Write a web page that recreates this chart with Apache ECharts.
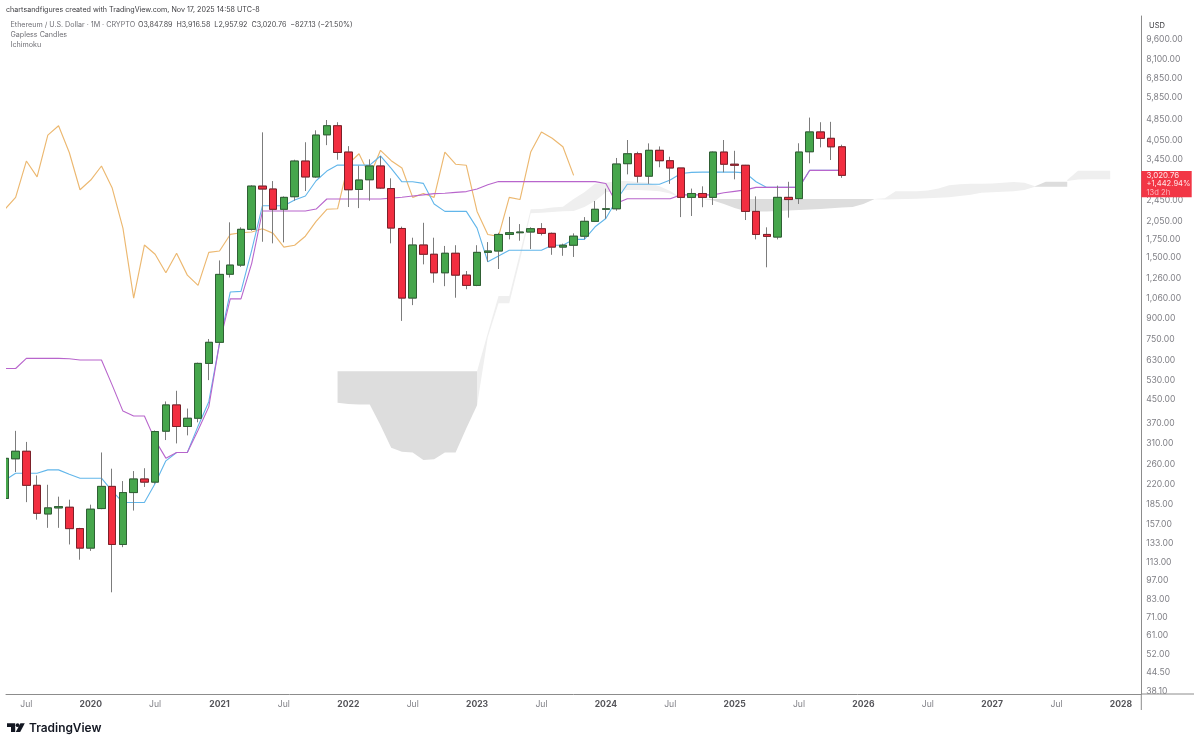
<!DOCTYPE html>
<html><head><meta charset="utf-8">
<style>html,body{margin:0;padding:0;background:#fff}#c{width:1200px;height:746px}</style>
<script src="https://cdn.jsdelivr.net/npm/echarts@6/dist/echarts.min.js"></script>
</head><body><div id="c"></div>
<script>
// month index 0 = May 2019
const opens=[195,273,291,218,171,180,181,151,128,179,216,132,205,230,224,345,431,359,385,613,733,1306,1411,1911,2757,2690,2265,2520,3410,2980,4260,4600,3680,2680,2910,3270,2700,1925,1067,1673,1547,1322,1560,1296,1188,1572,1590,1830,1857,1868,1921,1847,1644,1670,1803,2045,2265,2275,3335,3627,3000,3735,3420,3215,2506,2590,2506,3680,3320,3290,2225,1830,1790,2506,2480,3690,4365,4135,3847.89];
const closes=[274,291,218,172,180,182,151,128,178,216,132,205,230,224,344,431,359,385,613,733,1304,1411,1911,2757,2690,2265,2506,3410,2980,4250,4600,3667,2674,2903,3270,2712,1932,1067,1673,1547,1322,1560,1296,1188,1572,1590,1830,1857,1868,1921,1847,1644,1670,1803,2045,2265,2275,3325,3627,3000,3735,3420,3215,2506,2590,2506,3680,3320,3290,2225,1830,1800,2506,2460,3680,4365,4135,3848,3020.76];
const lows=[190,244,189,163,152,152,132,116,125,178,88,129,176,215,221,320,311,333,372,532,716,1270,1390,1889,1720,1697,1711,2436,2645,2957,3903,3449,2309,2288,2436,2690,1697,879,1005,1420,1215,1180,1070,1150,1180,1452,1365,1755,1735,1617,1815,1540,1527,1512,1755,2033,2090,2238,3046,2840,2810,3235,2810,2120,2140,2305,2350,3100,2920,2068,1755,1385,1755,2110,2370,3345,3830,3440,2957.92];
const highs=[285,346,315,237,219,198,193,152,185,288,251,226,246,252,347,444,486,418,617,754,1468,2028,1944,2780,4350,2878,2527,3449,4000,4426,4830,4740,3870,3278,3460,3559,2945,1955,1780,2020,1780,1660,1670,1342,1670,1715,1856,2125,1998,1944,2015,1860,1692,1847,2120,2430,2700,3500,4076,3690,3962,3860,3537,3215,2700,2752,3700,4076,3720,3300,2527,1944,2768,2860,3965,4930,4740,4755,3916.58];
const tenkan=[227.7,241.6,241.6,241.6,248.5,248.5,239.6,231.6,231.6,231.6,207.4,188.5,188.5,188.5,221.4,268.3,288,288,360,443,728,1123,1129,1603,2335,2335,2335,2450,2535,2886,3133,3295,3295,3295,3295,3560,3205,2860,2860,2821,2370,2225,2225,2225,1930,1452,1525,1600,1600,1600,1600,1670,1670,1755,1755,1953,2095,2450,2800,2800,2800,2800,2903,3070,3097,3105,3105,3105,3105,3085,2860,2727,2727,2727,2727,3152,3152,3152,3152];
const kijun=[587,587,639.7,639.7,639.7,639.7,637.6,630.6,630.6,630.6,509.9,409,392.6,392.6,319.8,274.5,288,288,348,424,728,1060,1060,1432,2232,2232,2232,2232,2232,2270,2472,2472,2472,2472,2472,2472,2490,2510,2535,2560,2586,2595,2615,2632,2690,2790,2865,2865,2865,2865,2865,2865,2865,2865,2865,2865,2820,2385,2478,2478,2478,2478,2478,2560,2560,2560,2560,2605,2637,2670,2727,2727,2727,2727,2727,3152,3152,3152,3152];
const chikou=[2265,2506,3410,2980,4250,4600,3667,2674,2903,3270,2712,1932,1067,1673,1547,1322,1560,1296,1188,1572,1590,1830,1857,1868,1921,1847,1644,1670,1803,2045,2265,2275,3325,3627,3000,3735,3420,3215,2506,2590,2506,3680,3320,3290,2225,1830,1800,2506,2460,3680,4365,4135,3848,3020.76];
// cloud pieces: first month index, upper edge, lower edge
const cloudAStart=31;
const cloudAUpper=[574,574,574,574,574,574,574,574,574,574,574,574,574,574];
const cloudALower=[439,434,433,433,363,299.5,290,288,270,272,288,288,354,430];
const cloudBStart=44;
const cloudBUpper=[574,793,1085,1085,1562,2265,2270,2300,2315,2472,2615,2810,2835,2880,2880,2855,2835,2755,2645,2500,2485,2476];
const cloudBLower=[430,766,1020,1020,1473,2190,2200,2215,2228,2232,2309,2429,2615,2645,2667,2667,2655,2637,2590,2490,2482,2476];
const cloudCStart=65;
const cloudCUpper=[2476,2472,2472,2472,2472,2472,2472,2472,2472,2472,2472,2472,2472,2472,2472,2472,2472];
const cloudCLower=[2476,2440,2370,2290,2232,2222,2222,2232,2240,2251,2260,2270,2285,2300,2309,2370,2465];
const cloudDStart=81;
const cloudDUpper=[2472,2485,2637,2637,2637,2655,2701,2780,2800,2810,2815,2820,2835,2855,2835,2755];
const cloudDLower=[2465,2460,2465,2471,2477,2485,2496,2510,2535,2560,2605,2615,2628,2640,2667,2745];
const cloudEStart=96;
const cloudEUpper=[2755,2860,2860,2860];
const cloudELower=[2745,2740,2740,2740];
const cloudFStart=99;
const cloudFUpper=[2903,3140,3140,3140,3140];
const cloudFLower=[2880,2915,2920,2920,2920];
const yTicks=[9600,8100,6850,5850,4850,4050,3450,2450,2050,1750,1500,1260,1060,900,750,630,530,450,370,310,260,220,185,157,133,113,97,83,71,61,52,44.5,38.1];
const xTickIdx=[2,8,14,20,26,32,38,44,50,56,62,68,74,80,86,92,98,104];
const xTickTxt=['Jul','2020','Jul','2021','Jul','2022','Jul','2023','Jul','2024','Jul','2025','Jul','2026','Jul','2027','Jul','2028'];

const UI='Inter, "Noto Sans", sans-serif';
const GRAY='#7f7f85';
const idx=a=>a.map((v,i)=>[i,v]);
const candles=opens.map((o,i)=>[i,o,closes[i],lows[i],highs[i]]);
const bodies=opens.map((o,i)=>{const hi=Math.max(o,closes[i]),lo=Math.min(o,closes[i]);return [i,o,closes[i],lo,hi];});
function cloud(start,up,lo,color){
  return {type:'custom',coordinateSystem:'cartesian2d',silent:true,z:1,
    data:up.map((u,i)=>[start+i,u,lo[i]]),encode:{x:0,y:[1,2]},
    renderItem(p,api){
      if(p.dataIndex!==0)return null;
      const pts=[];
      up.forEach((u,i)=>pts.push(api.coord([start+i,u])));
      for(let i=lo.length-1;i>=0;i--)pts.push(api.coord([start+i,lo[i]]));
      return {type:'polygon',shape:{points:pts},style:{fill:color,stroke:null}};
    }};
}
const DARK='#dddddd',LIGHT='#efefef';
const chart=echarts.init(document.getElementById('c'),null,{renderer:'canvas'});
const txt=(x,y,s,o)=>({type:'text',x,y,z:100,silent:true,style:Object.assign({text:s,font:'7.15px '+UI,fill:'#6f6f75',textVerticalAlign:'middle'},o||{})});
chart.setOption({
  animation:false,backgroundColor:'#fff',
  grid:{left:6,right:58.7,top:16,bottom:52,containLabel:false},
  xAxis:{type:'value',min:0.1025,max:105.9,splitLine:{show:false},
    axisLine:{show:true,onZero:false,lineStyle:{color:'#8c8c8c',width:1}},axisTick:{show:false},
    axisLabel:{customValues:xTickIdx,margin:6,fontFamily:UI,fontSize:8.6,color:GRAY,
      formatter:v=>{const t=xTickTxt[xTickIdx.indexOf(Math.round(v))];return t==='Jul'?t:'{y|'+t+'}';},
      rich:{y:{fontFamily:UI,fontSize:8.6,fontWeight:700,color:'#55555a'}}}},
  yAxis:{type:'log',logBase:Math.E,position:'right',min:37.14,max:11668,splitLine:{show:false},
    axisLine:{show:true,onZero:false,lineStyle:{color:'#8c8c8c',width:1}},axisTick:{show:false},
    axisLabel:{customValues:yTicks,margin:5,fontFamily:UI,fontSize:8.6,color:GRAY,showMinLabel:true,showMaxLabel:true,
      formatter:v=>Number(v).toLocaleString('en-US',{minimumFractionDigits:2,maximumFractionDigits:2})}},
  series:[
    cloud(cloudAStart,cloudAUpper,cloudALower,DARK),
    cloud(cloudBStart,cloudBUpper,cloudBLower,LIGHT),
    cloud(cloudCStart,cloudCUpper,cloudCLower,DARK),
    cloud(cloudDStart,cloudDUpper,cloudDLower,LIGHT),
    cloud(cloudEStart,cloudEUpper,cloudELower,DARK),
    cloud(cloudFStart,cloudFUpper,cloudFLower,LIGHT),
    {type:'line',name:'Chikou',data:idx(chikou),showSymbol:false,z:2,lineStyle:{color:'#ecb870',width:1.15}},
    {type:'line',name:'Tenkan',data:idx(tenkan),showSymbol:false,z:2,lineStyle:{color:'#62b6ea',width:1.1}},
    {type:'line',name:'Kijun',data:idx(kijun),showSymbol:false,z:2,lineStyle:{color:'#b865cc',width:1.1}},
    {type:'candlestick',name:'wick',data:candles,encode:{x:0,y:[1,2,3,4]},barWidth:8,z:3,clip:true,
      itemStyle:{color:'#46a64c',color0:'#f22e40',borderColor:'#7c7c7c',borderColor0:'#7c7c7c',borderWidth:1}},
    {type:'candlestick',name:'body',data:bodies,encode:{x:0,y:[1,2,3,4]},barWidth:8,z:4,clip:true,
      itemStyle:{color:'#46a64c',color0:'#f22e40',borderColor:'#2f6034',borderColor0:'#7d2029',borderWidth:1}}
  ],
  graphic:[
    {type:'rect',z:80,silent:true,shape:{x:0,y:16,width:6,height:678},style:{fill:'#fff'}},
    {type:'line',z:90,silent:true,shape:{x1:1141.3,y1:694,x2:1194,y2:694},style:{stroke:'#8c8c8c',lineWidth:1}},
    {type:'line',z:90,silent:true,shape:{x1:1141.3,y1:694,x2:1141.3,y2:710},style:{stroke:'#8c8c8c',lineWidth:1}},
    txt(6,9.5,'chartsandfigures created with TradingView.com, Nov 17, 2025 14:58 UTC-8',{fill:'#3c3c40'}),
    txt(10.5,25,'Ethereum / U.S. Dollar · 1M · CRYPTO',{}),
    txt(138,25,'O3,847.89  H3,916.58  L2,957.92  C3,020.76  −827.13 (−21.50%)',{fill:'#48484c'}),
    txt(10.5,35,'Gapless Candles',{}),
    txt(10.5,45,'Ichimoku',{}),
    txt(1149,26,'USD',{fill:'#3c3c40',font:'7.6px '+UI}),
    {type:'rect',z:95,silent:true,shape:{x:1141.3,y:171,width:50.4,height:26.3},style:{fill:'#f23645'}},
    txt(1146.5,175.5,'3,020.76',{fill:'#ffe5e7',font:'7.9px '+UI}),
    txt(1146.5,184,'+1,442.94%',{fill:'#ffe5e7',font:'7.6px '+UI}),
    txt(1146.5,192.5,'13d 2h',{fill:'#ffb3ba',font:'7.6px '+UI}),
    {type:'polygon',z:100,silent:true,shape:{points:[[7,723.3],[15.2,723.3],[15.2,732],[11,732],[11,727],[7,727]]},style:{fill:'#131722'}},
    {type:'circle',z:100,silent:true,shape:{cx:17.6,cy:725.2,r:1.9},style:{fill:'#131722'}},
    {type:'polygon',z:100,silent:true,shape:{points:[[20.4,723.3],[24.8,723.3],[20.2,732],[15.8,732]]},style:{fill:'#131722'}},
    {type:'text',x:29,y:728,z:100,silent:true,style:{text:'TradingView',font:'600 11.9px '+UI,fill:'#131722',textVerticalAlign:'middle'}}
  ]
});
</script></body></html>
